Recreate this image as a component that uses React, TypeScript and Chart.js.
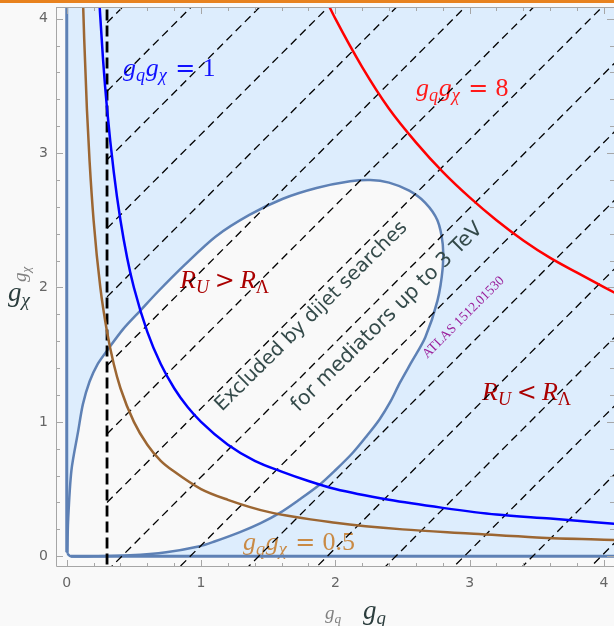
import React, { useEffect, useRef } from 'react';
import { Chart, registerables } from 'chart.js';

Chart.register(...registerables);

// ---------- data ----------
const X_TICKS = [0, 1, 2, 3, 4];
const Y_TICKS = [0, 1, 2, 3, 4];
const MINOR_PER_MAJOR = 5;

// boundary of the region excluded by dijet searches (ATLAS 1512.01530)
const EXCLUDED_X = [0.005, 0.01, 0.035, 0.085, 0.12, 0.17, 0.23, 0.30, 0.42, 0.55, 0.68, 0.88, 1.11, 1.36, 1.61, 1.86, 2.11, 2.26, 2.40, 2.55, 2.67, 2.76, 2.80, 2.80, 2.76, 2.67, 2.57, 2.48, 2.41, 2.33, 2.23, 2.13, 2.00, 1.88, 1.73, 1.59, 1.44, 1.29, 1.10, 0.99, 0.74, 0.47, 0.20, 0.03, 0.005];
const EXCLUDED_Y = [0.02, 0.26, 0.64, 0.93, 1.13, 1.30, 1.43, 1.53, 1.69, 1.83, 1.97, 2.17, 2.38, 2.54, 2.66, 2.74, 2.79, 2.80, 2.78, 2.72, 2.63, 2.50, 2.32, 2.15, 1.90, 1.63, 1.45, 1.29, 1.15, 1.02, 0.89, 0.77, 0.64, 0.53, 0.42, 0.325, 0.245, 0.18, 0.11, 0.075, 0.03, 0.007, 0.0, 0.0, 0.02];

// g_q g_chi = 0.5
const C05_X = [0.12, 0.13, 0.15, 0.17, 0.2, 0.25, 0.3, 0.35, 0.4, 0.5, 0.6, 0.7, 0.8, 1.0, 1.2, 1.5, 2.0, 2.5, 3.0, 3.5, 4.1];
const C05_Y = [4.17, 3.85, 3.33, 2.94, 2.5, 2.0, 1.67, 1.43, 1.25, 1.0, 0.83, 0.71, 0.63, 0.5, 0.42, 0.33, 0.25, 0.2, 0.17, 0.14, 0.12];
// g_q g_chi = 1
const C1_X = [0.24, 0.27, 0.3, 0.35, 0.4, 0.45, 0.5, 0.6, 0.7, 0.8, 0.9, 1.0, 1.2, 1.4, 1.6, 1.8, 2.0, 2.4, 2.8, 3.2, 3.6, 4.1];
const C1_Y = [4.17, 3.7, 3.33, 2.86, 2.5, 2.22, 2.0, 1.67, 1.43, 1.25, 1.11, 1.0, 0.83, 0.71, 0.63, 0.56, 0.5, 0.42, 0.36, 0.31, 0.28, 0.24];
// g_q g_chi = 8
const C8_X = [1.95, 2.0, 2.2, 2.4, 2.6, 2.8, 3.0, 3.2, 3.4, 3.6, 3.8, 4.1];
const C8_Y = [4.1, 4.0, 3.64, 3.33, 3.08, 2.86, 2.67, 2.5, 2.35, 2.22, 2.11, 1.95];

// vertical cut and hatched region to its right
const CUT_X = 0.3;
const HATCH_OFFSETS = [3.98, 3.47, 2.96, 2.45, 1.94, 1.43, 0.92, 0.41, -0.10, -0.61, -1.12, -1.63, -2.14, -2.65, -3.16, -3.67];

// ---------- styles ----------
const BG = '#f9f9f9';
const LIGHT_BLUE = '#ddedfd';
const REGION_EDGE = '#5e81b5';
const FRAME = '#a6a6a6';

const pts = (xs: number[], ys: number[]) => xs.map((x, i) => ({ x, y: ys[i] }));

type Part = { t: string; it?: boolean; sub?: boolean; gap?: number; f?: string; s?: number };

function drawMath(ctx: CanvasRenderingContext2D, x: number, y: number, parts: Part[], size: number, color: string) {
  ctx.fillStyle = color;
  ctx.textBaseline = 'alphabetic';
  ctx.textAlign = 'left';
  let cx = x;
  for (const p of parts) {
    const fs = (p.sub ? size * 0.7 : size) * (p.s || 1);
    cx += (p.gap || 0) * size;
    ctx.font = `${p.it ? 'italic ' : ''}${fs}px "${p.f || 'Liberation Serif'}"`;
    ctx.fillText(p.t, cx, y + (p.sub ? size * 0.2 : 0));
    cx += ctx.measureText(p.t).width;
  }
}

const gg = (k: string): Part[] => [
  { t: 'g', it: true },
  { t: 'q', it: true, sub: true },
  { t: 'g', it: true, gap: 0.03 },
  { t: 'χ', it: true, sub: true },
  { t: '=', gap: 0.32, f: 'DejaVu Serif', s: 0.92 },
  { t: k, gap: 0.28 },
];
const RR = (op: string): Part[] => [
  { t: 'R', it: true },
  { t: 'U', it: true, sub: true },
  { t: op, gap: 0.22, f: 'DejaVu Serif', s: 0.92 },
  { t: 'R', it: true, gap: 0.2 },
  { t: 'Λ', sub: true },
];

const framePlugin = {
  id: 'frameTicks',
  afterDraw(chart: any) {
    const { ctx, chartArea: a, scales } = chart;
    const xs = scales.x, ys = scales.y;
    ctx.save();
    ctx.strokeStyle = FRAME;
    ctx.lineWidth = 1;
    ctx.beginPath();
    ctx.moveTo(a.left + 0.5, a.top + 0.5);
    ctx.lineTo(a.right + 2, a.top + 0.5);
    ctx.moveTo(a.left + 0.5, a.top);
    ctx.lineTo(a.left + 0.5, a.bottom - 0.5);
    ctx.lineTo(a.right + 2, a.bottom - 0.5);
    const tick = (v: number, len: number) => {
      const px = Math.round(xs.getPixelForValue(v)) + 0.5;
      if (px > a.left && px < a.right) {
        ctx.moveTo(px, a.bottom); ctx.lineTo(px, a.bottom - len);
        ctx.moveTo(px, a.top); ctx.lineTo(px, a.top + len);
      }
      const py = Math.round(ys.getPixelForValue(v)) + 0.5;
      if (py > a.top && py < a.bottom) {
        ctx.moveTo(a.left, py); ctx.lineTo(a.left + len, py);
        ctx.moveTo(a.right, py); ctx.lineTo(a.right - len, py);
      }
    };
    for (const m of X_TICKS) {
      tick(m, 7);
      for (let k = 1; k < MINOR_PER_MAJOR; k++) tick(m + k / MINOR_PER_MAJOR, 4);
    }
    ctx.stroke();
    ctx.restore();
  },
};

function drawPlotLabels(ctx: CanvasRenderingContext2D) {
  ctx.save();
  drawMath(ctx, 123, 76, gg('1'), 26, '#1010ff');
  drawMath(ctx, 416, 96, gg('8'), 26, '#ff1a1a');
  drawMath(ctx, 243, 550, gg('0.5'), 26, '#c98a45');
  drawMath(ctx, 180, 288, RR('>'), 26, '#aa0000');
  drawMath(ctx, 482, 400, RR('<'), 26, '#aa0000');

  const rot = (text: string, cx: number, cy: number, ang: number, font: string, color: string) => {
    ctx.save();
    ctx.translate(cx, cy);
    ctx.rotate(ang);
    ctx.font = font;
    ctx.fillStyle = color;
    ctx.textAlign = 'center';
    ctx.textBaseline = 'alphabetic';
    ctx.fillText(text, 0, 0);
    ctx.restore();
  };
  const ang = -44.6 * Math.PI / 180;
  rot('Excluded by dijet searches', 315, 320, ang, '19.5px "DejaVu Sans"', '#344a4a');
  rot('for mediators up to 3 TeV', 391, 321, ang, '20.5px "DejaVu Sans"', '#344a4a');
  rot('ATLAS 1512.01530', 466, 320, -45 * Math.PI / 180, '13.5px "Liberation Serif"', '#9b1f9b');
  ctx.restore();
}

const labelPlugin = {
  id: 'labels',
  afterDatasetDraw(chart: any, args: any) {
    // texts lie above the filled regions but under the hatching and curves
    if (args.index === 1) drawPlotLabels(chart.ctx);
  },
  afterDraw(chart: any) {
    const ctx: CanvasRenderingContext2D = chart.ctx;
    ctx.save();
    drawMath(ctx, 325, 619, [{ t: 'g', it: true }, { t: 'q', it: true, sub: true }], 19, '#808080');
    drawMath(ctx, 363, 619, [{ t: 'g', it: true }, { t: 'q', it: true, sub: true }], 27, '#2b3d3d');
    ctx.save();
    ctx.translate(26, 282);
    ctx.rotate(-Math.PI / 2);
    drawMath(ctx, 0, 0, [{ t: 'g', it: true }, { t: 'χ', it: true, sub: true }], 19, '#808080');
    ctx.restore();
    drawMath(ctx, 8, 301, [{ t: 'g', it: true }, { t: 'χ', it: true, sub: true }], 27, '#2b3d3d');
    ctx.restore();
  },
};

export default function App() {
  const ref = useRef<HTMLCanvasElement>(null);
  useEffect(() => {
    document.body.style.margin = '0';
    document.body.style.background = BG;
    const lineDs = (data: any[], color: string, width: number, order: number, extra: any = {}) => ({
      data, borderColor: color, borderWidth: width, pointRadius: 0, showLine: true, fill: false, order, ...extra,
    });
    const datasets: any[] = [
      { data: [{ x: 0, y: 0 }, { x: 4.3, y: 0 }, { x: 4.3, y: 4.3 }, { x: 0, y: 4.3 }], fill: 'shape', backgroundColor: LIGHT_BLUE, borderWidth: 0, pointRadius: 0, showLine: true, order: 20 },
      { data: pts(EXCLUDED_X, EXCLUDED_Y), fill: 'shape', backgroundColor: BG, borderColor: REGION_EDGE, borderWidth: 2.5, tension: 0.3, pointRadius: 0, showLine: true, order: 19 },
      lineDs([{ x: 0, y: 0.03 }, { x: 0, y: 4.3 }], REGION_EDGE, 3, 18),
      lineDs([{ x: 0.03, y: 0 }, { x: 4.3, y: 0 }], REGION_EDGE, 3, 18),
      ...HATCH_OFFSETS.map((c) => lineDs([{ x: CUT_X, y: CUT_X - c }, { x: 4.4, y: 4.4 - c }], '#000000', 1.3, 15, { borderDash: [8, 5] })),
      lineDs([{ x: CUT_X, y: -0.3 }, { x: CUT_X, y: 4.4 }], '#000000', 2.8, 14, { borderDash: [11, 5] }),
      lineDs(pts(C05_X, C05_Y), '#9c6632', 2.5, 12, { cubicInterpolationMode: 'monotone' }),
      lineDs(pts(C1_X, C1_Y), '#0000ff', 2.5, 11, { cubicInterpolationMode: 'monotone' }),
      lineDs(pts(C8_X, C8_Y), '#ff0000', 2.5, 10, { cubicInterpolationMode: 'monotone' }),
    ];
    const zeroPad = (s: any) => { s.paddingTop = 0; s.paddingBottom = 0; s.paddingLeft = 0; s.paddingRight = 0; };
    const chart = new Chart(ref.current!, {
      type: 'scatter',
      data: { datasets },
      options: {
        animation: false,
        responsive: false,
        devicePixelRatio: 1,
        layout: { padding: { top: 7, right: 0, left: 0, bottom: 0 } },
        plugins: { legend: { display: false }, tooltip: { enabled: false } },
        scales: {
          x: {
            type: 'linear', min: -0.08, max: 4.075,
            grid: { display: false, drawTicks: false }, border: { display: false },
            afterBuildTicks: (s: any) => { s.ticks = X_TICKS.map((value) => ({ value })); },
            afterFit: (s: any) => { s.height = 59; zeroPad(s); },
            ticks: { autoSkip: false, padding: 8, color: '#666', font: { family: 'DejaVu Sans', size: 14 }, callback: (v: any) => String(v) },
          },
          y: {
            type: 'linear', min: -0.08, max: 4.087,
            grid: { display: false, drawTicks: false }, border: { display: false },
            afterBuildTicks: (s: any) => { s.ticks = Y_TICKS.map((value) => ({ value })); },
            afterFit: (s: any) => { s.width = 56; zeroPad(s); },
            ticks: { autoSkip: false, padding: 8, color: '#666', font: { family: 'DejaVu Sans', size: 14 }, callback: (v: any) => String(v) },
          },
        },
      },
      plugins: [labelPlugin, framePlugin],
    } as any);
    return () => chart.destroy();
  }, []);
  return (
    <div style={{ position: 'relative', width: 614, height: 626, background: BG, overflow: 'hidden' }}>
      <canvas ref={ref} width={614} height={626} style={{ display: 'block' }} />
      <div style={{ position: 'absolute', left: 0, top: 0, width: 614, height: 3, background: '#e8821e' }} />
    </div>
  );
}
